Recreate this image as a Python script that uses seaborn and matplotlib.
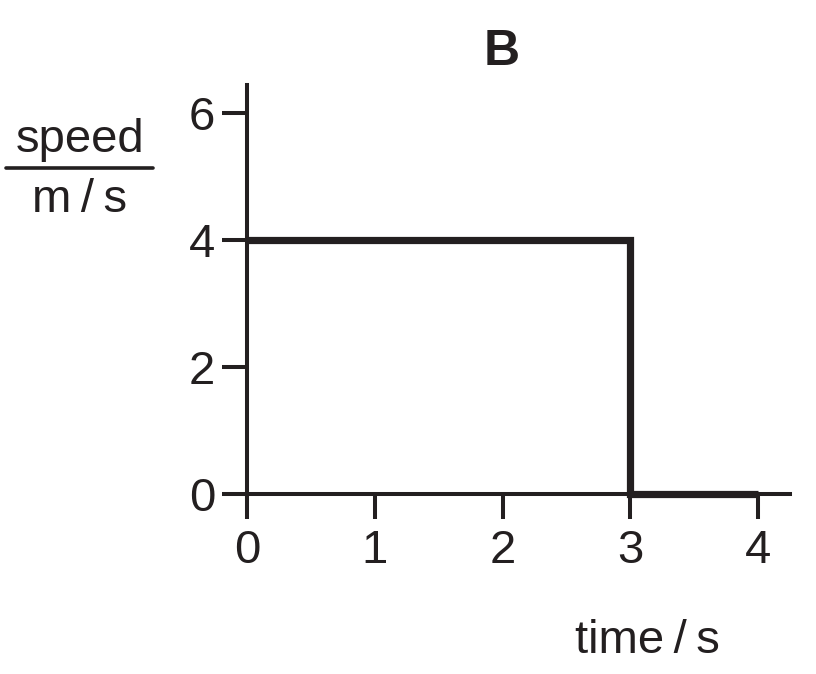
import matplotlib
matplotlib.use("Agg")
import matplotlib.pyplot as plt
import seaborn as sns
import pandas as pd
from matplotlib.lines import Line2D

# speed-time data (one step down at t = 3 s)
time_s = [0, 3, 3, 4]
speed_ms = [4, 4, 0, 0]
x_ticks = [0, 1, 2, 3, 4]
y_ticks = [0, 2, 4, 6]
panel_title = "B"
x_label = "time\u2009/\u2009s"
y_label_top = "speed"
y_label_bottom = "m\u2009/\u2009s"

ink = "#231f20"

sns.set_style("ticks")
plt.rcParams["font.family"] = ["Liberation Sans", "DejaVu Sans"]

df = pd.DataFrame({"time": time_s, "speed": speed_ms})

fig = plt.figure(figsize=(8.16, 6.74), dpi=100)
ax = fig.add_axes([0.3027, 0.267, 0.6654, 0.6068])

sns.lineplot(data=df, x="time", y="speed", ax=ax, estimator=None, sort=False,
             color=ink, linewidth=5.2, solid_joinstyle="miter",
             solid_capstyle="butt", clip_on=False, zorder=5)

ax.set_xlim(0, 4.25)
ax.set_ylim(0, 6.44)
ax.set_xticks(x_ticks)
ax.set_yticks(y_ticks)
ax.set_xlabel("")
ax.set_ylabel("")

for side in ["top", "right"]:
    ax.spines[side].set_visible(False)
for side in ["left", "bottom"]:
    ax.spines[side].set_linewidth(2.9)
    ax.spines[side].set_color(ink)

ax.tick_params(axis="both", direction="out", length=18, width=2.9,
               color=ink, labelcolor=ink, labelsize=34)
ax.tick_params(axis="x", pad=7)
ax.tick_params(axis="y", pad=5)

fig.text(0.615, 0.9036, panel_title, ha="center", va="baseline",
         fontsize=36, fontweight="bold", color=ink)
fig.text(0.793, 0.0312, x_label, ha="center", va="baseline",
         fontsize=34, color=ink)
fig.text(0.098, 0.7745, y_label_top, ha="center", va="baseline",
         fontsize=34, color=ink)
fig.text(0.098, 0.6855, y_label_bottom, ha="center", va="baseline",
         fontsize=34, color=ink)
fig.add_artist(Line2D([0.0074, 0.1875], [0.7507, 0.7507],
                      transform=fig.transFigure, color=ink, linewidth=2.6))

fig.savefig("out.png", dpi=100)
